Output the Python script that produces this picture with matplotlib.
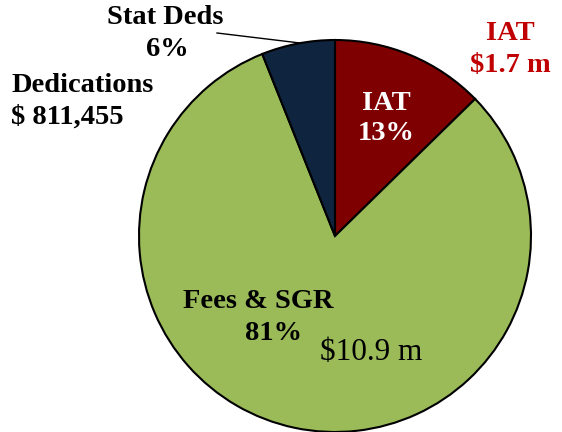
import matplotlib.pyplot as plt

# revenue split (dollars)
labels = ["IAT", "Fees & SGR", "Stat Deds"]
amounts = [1.7e6, 10.9e6, 811455]
pct_labels = ["13%", "81%", "6%"]
colors = ["#7F0000", "#9BBB59", "#0F243E"]

W, H = 562, 432
fig = plt.figure(figsize=(W / 100, H / 100), dpi=100)
ax = fig.add_axes([0, 0, 1, 1])

ax.pie(amounts, colors=colors, startangle=90, counterclock=False,
       center=(335, H - 236), radius=196, frame=True,
       wedgeprops=dict(edgecolor="black", linewidth=1.5))
ax.set_xlim(0, W)
ax.set_ylim(0, H)
ax.set_aspect("equal")
ax.axis("off")

serif = "Liberation Serif"


def txt(x, y, s, **kw):
    kw.setdefault("family", serif)
    kw.setdefault("fontweight", "bold")
    kw.setdefault("fontsize", 20.5)
    ax.text(x, H - y, s, ha="center", va="center", **kw)


# inside IAT wedge
txt(386, 103, labels[0], color="white")
txt(386, 134, pct_labels[0], color="white")
# outside IAT note
txt(510, 33, "IAT", color="#C00000")
txt(510, 65, "$1.7 m", color="#C00000")
# Fees & SGR
txt(258, 302, labels[1], color="black")
txt(273, 333, pct_labels[1], color="black")
txt(371, 352, "$10.9 m", color="black", fontweight="normal", fontsize=22.5)
# Stat Deds
txt(165, 18, labels[2], color="black")
txt(167, 49, pct_labels[2], color="black")
ax.plot([217, 300], [H - 33, H - 43], color="black", linewidth=1)
# Dedications
ax.text(11, H - 85, "Dedications", family=serif, fontweight="bold",
        fontsize=20.5, ha="left", va="center")
ax.text(11, H - 117, "$ 811,455", family=serif, fontweight="bold",
        fontsize=20.5, ha="left", va="center")

fig.savefig("out.png", dpi=100)
